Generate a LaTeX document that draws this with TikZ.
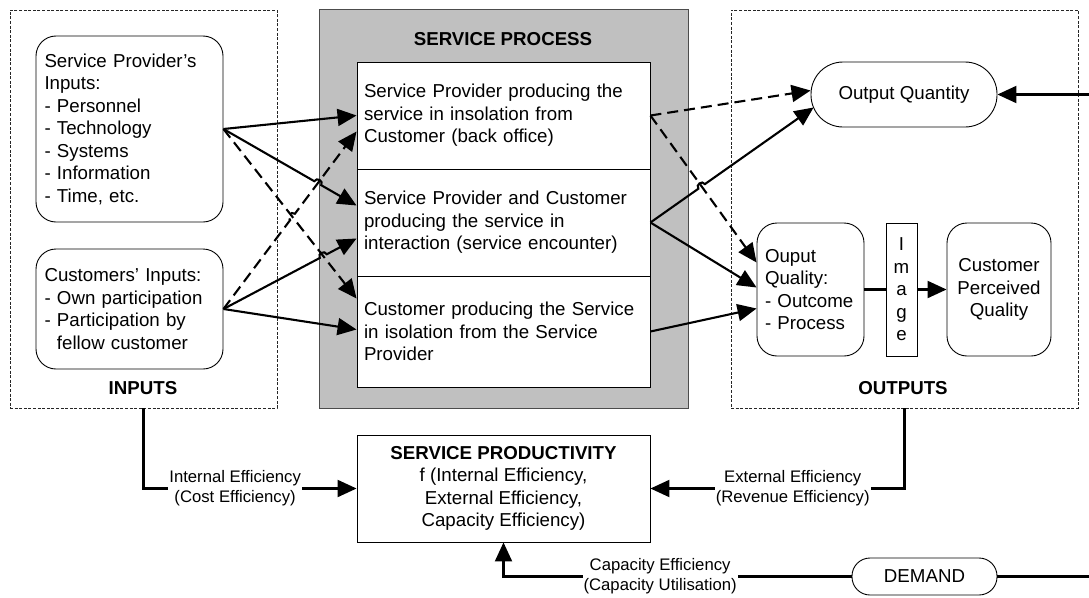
\documentclass[tikz,border=0pt]{standalone}
\usepackage{fontspec}
\setmainfont{Liberation Sans}
\usetikzlibrary{arrows.meta,calc,intersections}
\newcommand\mfont{\fontsize{18.7}{22.5}\selectfont}
\newcommand\lfont{\fontsize{16.7}{20}\selectfont}
\definecolor{procgray}{HTML}{C0C0C0}
\begin{document}
\begin{tikzpicture}[x=1pt,y=-1pt,
  box/.style={draw, line width=0.9pt, inner ysep=0pt, font=\mfont},
  rbox/.style={box, rounded corners=20pt},
  group/.style={draw=black!85, line width=0.8pt, dash pattern=on 3pt off 1.6pt, inner sep=0pt},
  title/.style={font=\mfont\bfseries, inner sep=0pt},
  lbl/.style={font=\lfont, fill=white, inner sep=1pt, align=center},
  conn/.style={line width=2.1pt},
  arr/.style={conn, -{Triangle[length=19pt,width=17pt]}},
  darr/.style={arr, dash pattern=on 11pt off 6pt},
  hop/.style={bend left=90, looseness=1.6},
]
\useasboundingbox (0,0) rectangle (1089,597);

% group frames
\node[group, minimum width=267pt, minimum height=398pt] (inputs) at (143.5,209) {};
\node[group, minimum width=347pt, minimum height=398pt] (outputs) at (904.5,209) {};
\node[draw=black!70, line width=0.9pt, fill=procgray, minimum width=369pt, minimum height=399pt, inner sep=0pt] (proc) at (503.5,208.5) {};

\node[title] (inlbl) at (143,388) {INPUTS};
\node[title] (outlbl) at (903,388) {OUTPUTS};
\node[title] (proclbl) at (503,39) {SERVICE PROCESS};

% inputs
\node[rbox, minimum width=187pt, minimum height=186pt, inner xsep=8.5pt, text width=170pt, align=left] (spi) at (129.5,129)
  {Service Provider’s\\Inputs:\\- Personnel\\- Technology\\- Systems\\- Information\\- Time, etc.};
\node[rbox, minimum width=187pt, minimum height=120pt, inner xsep=8.5pt, text width=170pt, align=left] (cui) at (129.5,309)
  {Customers’ Inputs:\\- Own participation\\- Participation by\\\hphantom{- }fellow customer};

% process boxes
\node[box, fill=white, minimum width=293pt, minimum height=107pt, inner xsep=7pt, text width=279pt, align=left] (b1) at (503.5,115.5)
  {Service Provider producing the\\service in insolation from\\Customer (back office)};
\node[box, fill=white, minimum width=293pt, minimum height=107pt, inner xsep=7pt, text width=279pt, align=left] (b2) at (503.5,222.5)
  {Service Provider and Customer\\producing the service in\\interaction (service encounter)};
\node[box, fill=white, minimum width=293pt, minimum height=111pt, inner xsep=7pt, text width=279pt, align=left] (b3) at (503.5,331.5)
  {Customer producing the Service\\in isolation from the Service\\Provider};

% outputs
\node[box, rounded corners=32pt, minimum width=186pt, minimum height=65pt] (oq) at (904,94.5) {Output Quantity};
\node[rbox, minimum width=107pt, minimum height=133pt, inner xsep=8pt, text width=91pt, align=left] (oql) at (810.5,289.5)
  {Ouput\\Quality:\\- Outcome\\- Process};
\node[box, minimum width=31pt, minimum height=133pt, inner xsep=0pt, align=center] (img) at (901.5,289.5)
  {I\\m\\a\\g\\e};
\node[rbox, minimum width=104pt, minimum height=133pt, inner xsep=6pt, text width=92pt, align=center] (cpq) at (999,289.5)
  {Customer\\Perceived\\Quality};

% productivity and demand
\node[box, minimum width=293pt, minimum height=107pt, align=center] (prod) at (503.5,488.5)
  {\textbf{SERVICE PRODUCTIVITY}\\f (Internal Efficiency,\\External Efficiency,\\Capacity Efficiency)};
\node[box, rounded corners=18pt, minimum width=145pt, minimum height=37pt] (dem) at (924.5,576.5) {DEMAND};

% connector end points
\coordinate (qin) at (1089,94.5);
\coordinate (din) at (1089,576.5);
\coordinate (b2a) at ($(b2.west)+(0,-17)$);
\coordinate (b3a) at ($(b3.west)+(0,-33)$);
\coordinate (b1b) at ($(b1.west)+(0,16)$);
\coordinate (b2b) at ($(b2.west)+(0,16)$);
\coordinate (b3b) at ($(b3.west)+(0,-2)$);
\coordinate (oqa) at ($(oq.west)+(0,-4)$);
\coordinate (oqla) at ($(oql.west)+(0,-27)$);
\coordinate (oqb) at ($(oq.west)+(3,13)$);
\coordinate (oqlb) at ($(oql.west)+(0,-2)$);
\coordinate (oqlc) at ($(oql.west)+(0,19)$);

% crossing points
\path[name path=pA] (spi.east) -- (b2a);
\path[name path=pB] (cui.east) -- (b1b);
\path[name path=pC] (cui.east) -- (b2b);
\path[name path=pD] (spi.east) -- (b3a);
\path[name path=pE] (b1.east) -- (oqla);
\path[name path=pF] (b2.east) -- (oqb);
\path[name intersections={of=pA and pB, by=x1}];
\path[name intersections={of=pC and pD, by=x2}];
\path[name intersections={of=pB and pD, by=x3}];
\path[name intersections={of=pE and pF, by=x4}];

% connectors from inputs
\draw[arr] (spi.east) -- (b1.west);
\draw[arr] (spi.east) -- ($(x1)!4pt!(spi.east)$) to[hop] ($(x1)!4pt!(b2a)$) -- (b2a);
\draw[darr] (spi.east) -- (b3a);
\draw[darr] (cui.east) -- ($(x3)!4pt!(cui.east)$) to[hop] ($(x3)!4pt!(b1b)$) -- (b1b);
\draw[arr] (cui.east) -- ($(x2)!4pt!(cui.east)$) to[hop] ($(x2)!4pt!(b2b)$) -- (b2b);
\draw[arr] (cui.east) -- (b3b);

% connectors to outputs
\draw[darr] (b1.east) -- (oqa);
\draw[darr] (b1.east) -- (oqla);
\draw[arr] (b2.east) -- ($(x4)!4pt!(b2.east)$) to[hop] ($(x4)!4pt!(oqb)$) -- (oqb);
\draw[arr] (b2.east) -- (oqlb);
\draw[arr] (b3.east) -- (oqlc);
\draw[conn] (oql.east) -- (img.west);
\draw[arr] (img.east) -- (cpq.west);
\draw[arr] (qin) -- (oq.east);

% efficiency connectors
\draw[arr] (inputs.south) |- node[lbl, pos=0.715] (ie) {Internal Efficiency\\(Cost Efficiency)} (prod.west);
\draw[arr] (outputs.south) |- node[lbl, pos=0.72] (ee) {External Efficiency\\(Revenue Efficiency)} (prod.east);
\draw[conn] (din) -- (dem.east);
\draw[arr] (dem.west) -| node[lbl, pos=0.275] (ce) {Capacity Efficiency\\(Capacity Utilisation)} (prod.south);
\end{tikzpicture}
\end{document}
